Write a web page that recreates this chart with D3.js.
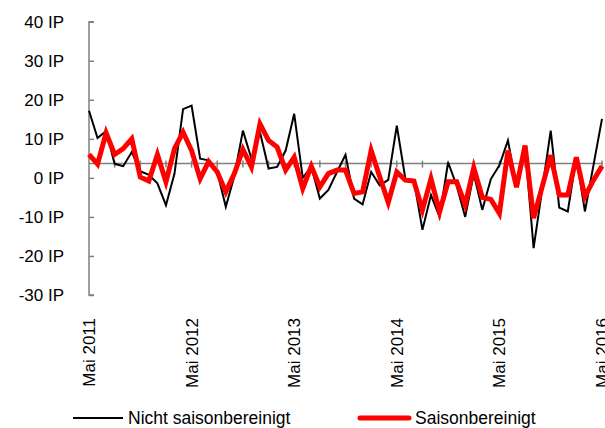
<!DOCTYPE html>
<html><head><meta charset="utf-8">
<script src="https://cdn.jsdelivr.net/npm/d3@7"></script>
<style>
html,body{margin:0;padding:0;background:#fff;}
svg{display:block;}
text{font-family:"Liberation Sans",Arial,sans-serif;fill:#000;}
</style></head>
<body>
<svg id="chart" width="605" height="428"></svg>
<script>
// Monthly data, Mai 2011 .. Mai 2016 (61 months)
const startYear = 2011, startMonth = 4; // Mai
const nichtSaisonbereinigt = [
  17.2, 10.2, 12.0, 3.6, 3.0, 6.6, 1.7, 0.8, -1.4, -7.0, 1.1, 17.6,
  18.5, 4.9, 4.5, 1.5, -7.4, 0.5, 12.1, 4.9, 11.7, 2.4, 2.8, 7.0,
  16.4, 0.0, 2.8, -5.3, -3.1, 1.5, 5.9, -5.3, -6.8, 1.5, -1.9, -0.5,
  13.4, -0.2, -0.6, -13.3, -4.4, -10.0, 4.0, -2.0, -10.0, 1.0, -8.2, -0.3,
  3.2, 9.6, -2.3, 8.0, -18.0, -3.0, 12.1, -7.6, -8.6, 5.3, -8.6, 3.2,
  15.1
];
const saisonbereinigt = [
  6.0, 3.5, 11.5, 6.0, 7.5, 10.0, 0.2, -0.8, 6.0, -1.0, 7.5, 11.7,
  7.0, -0.2, 4.2, 1.5, -3.6, 1.1, 7.3, 2.8, 13.8, 9.6, 7.9, 2.0,
  5.3, -2.7, 3.0, -2.3, 1.1, 2.0, 2.0, -4.0, -3.6, 7.0, 0.3, -6.3,
  1.5, -0.6, -0.8, -8.2, -0.2, -8.7, -1.0, -1.0, -6.9, 2.6, -5.0, -5.5,
  -9.1, 7.0, -2.4, 8.3, -10.3, -2.3, 5.8, -4.4, -4.4, 5.3, -4.8, -0.6,
  3.0
];
const yTicks = [-30, -20, -10, 0, 10, 20, 30, 40];
const xLabelMonths = [0, 12, 24, 36, 48, 60];
const xLabels = ["Mai 2011", "Mai 2012", "Mai 2013", "Mai 2014", "Mai 2015", "Mai 2016"];
const seriesNames = ["Nicht saisonbereinigt", "Saisonbereinigt"];
const axisCross = 3.65;

const svg = d3.select("#chart");
const x = d3.scaleLinear().domain([0, 60]).range([89, 602]);
const y = d3.scaleLinear().domain([-30, 40]).range([295, 21.7]);
const grey = "#808080";

// Y axis (ticks inside)
const yAxis = d3.axisRight(y).tickValues(yTicks).tickSize(5).tickFormat("");
const gy = svg.append("g").attr("transform", `translate(${x(0)},0)`).call(yAxis);
gy.select(".domain").attr("stroke", grey).attr("stroke-width", 1.5).attr("d", `M5,${y(40)}H0V${y(-30)}H5`);
gy.selectAll(".tick line").attr("stroke", grey).attr("stroke-width", 1.5);

svg.append("g").selectAll("text").data(yTicks).join("text")
  .attr("x", 64).attr("y", d => y(d)).attr("dy", "0.35em")
  .attr("text-anchor", "end").style("font-size", "17px")
  .text(d => d + " IP");

// X axis at crossing value
const xTickVals = d3.range(3, 61, 3);
const gx = svg.append("g").attr("transform", `translate(0,${y(axisCross)})`);
gx.append("line").attr("x1", x(0)).attr("x2", 603).attr("y1", 0).attr("y2", 0)
  .attr("stroke", grey).attr("stroke-width", 1.5);
gx.selectAll("line.t").data(xTickVals).join("line").attr("class", "t")
  .attr("x1", d => x(d)).attr("x2", d => x(d)).attr("y1", -3).attr("y2", 4)
  .attr("stroke", grey).attr("stroke-width", 1.5);

// X labels rotated
svg.append("g").selectAll("text").data(xLabelMonths).join("text")
  .attr("transform", d => `translate(${x(d)},318) rotate(-90)`)
  .attr("dy", "0.35em").attr("text-anchor", "end").style("font-size", "17px")
  .text((d, i) => xLabels[i]);

// Lines
const line = d3.line().x((d, i) => x(i)).y(d => y(d));
svg.append("path").datum(nichtSaisonbereinigt).attr("d", line)
  .attr("fill", "none").attr("stroke", "#000").attr("stroke-width", 2);
svg.append("path").datum(saisonbereinigt).attr("d", line)
  .attr("fill", "none").attr("stroke", "#ff0000").attr("stroke-width", 5);

// Legend
const lg = svg.append("g");
lg.append("line").attr("x1", 73).attr("x2", 123).attr("y1", 418).attr("y2", 418)
  .attr("stroke", "#000").attr("stroke-width", 2);
lg.append("text").attr("x", 128).attr("y", 418).attr("dy", "0.35em")
  .style("font-size", "17.5px").text(seriesNames[0]);
lg.append("line").attr("x1", 360).attr("x2", 409).attr("y1", 418).attr("y2", 418)
  .attr("stroke", "#ff0000").attr("stroke-width", 5).attr("stroke-linecap", "round");
lg.append("text").attr("x", 415).attr("y", 418).attr("dy", "0.35em")
  .style("font-size", "17.5px").text(seriesNames[1]);
</script>
</body></html>
